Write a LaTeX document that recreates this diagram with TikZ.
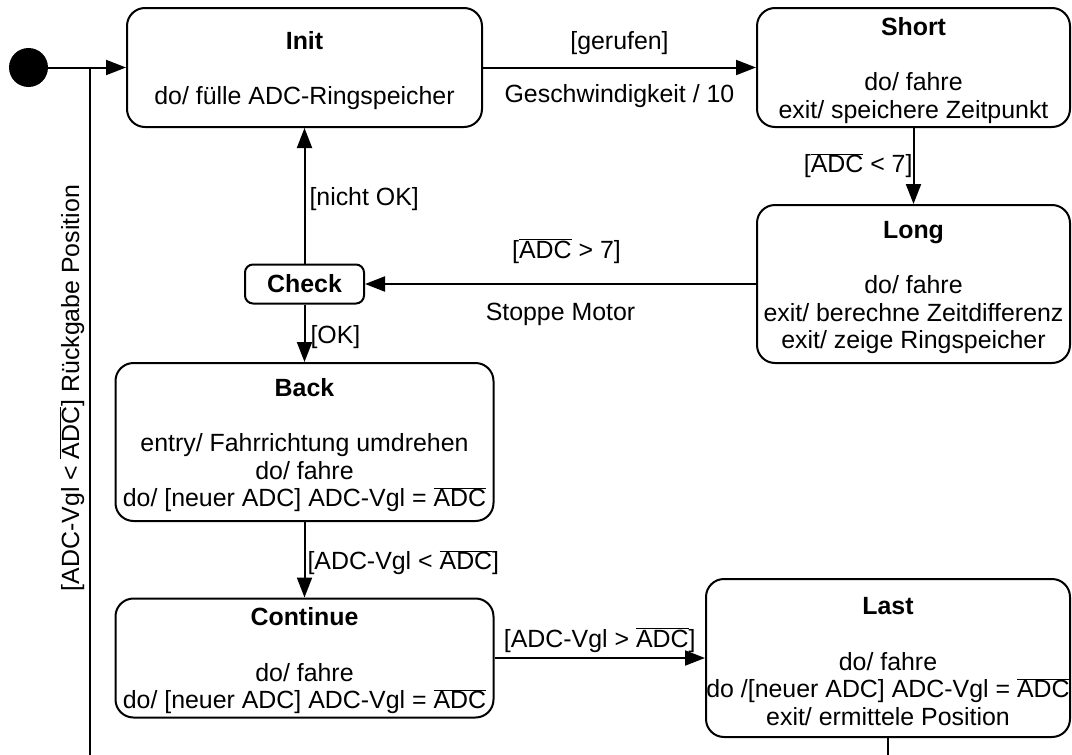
\documentclass[tikz,border=0pt]{standalone}
\usepackage{fontspec}
\setmainfont{Liberation Sans}
\usetikzlibrary{arrows.meta}
\newcommand\fsz{\fontsize{24.9pt}{27.5pt}\selectfont}
\newcommand\ADCbar{\ensuremath{\overline{\mbox{ADC}}}}
\newcommand\tgap{\rule{0pt}{24pt}}
\tikzset{
  statebox/.style={draw, line width=2pt, rounded corners=18pt, align=center, font=\fsz, inner sep=0pt},
  lab/.style={font=\fsz, inner sep=0pt},
  conn/.style={line width=2pt},
  arr/.style={conn, -{Triangle[length=20pt,width=15pt]}}
}
\begin{document}
\begin{tikzpicture}[x=1pt,y=-1pt]
\useasboundingbox (0,0) rectangle (1072,755);
\clip (0,0) rectangle (1072,755);

\node[circle, fill, minimum size=39pt, inner sep=0pt] (start) at (28.5,67.5) {};

\node[statebox, minimum width=355pt, minimum height=119pt] (Init) at (304.5,67.5)
  {\tgap\textbf{Init}\\[28pt]do/ fülle ADC-Ringspeicher};
\node[statebox, minimum width=313pt, minimum height=119pt] (Short) at (913.5,67.5)
  {\tgap\textbf{Short}\\[28pt]do/ fahre\\exit/ speichere Zeitpunkt};
\node[statebox, minimum width=313pt, minimum height=158pt] (Long) at (913.5,284)
  {\tgap\textbf{Long}\\[28pt]do/ fahre\\exit/ berechne Zeitdifferenz\\exit/ zeige Ringspeicher};
\node[statebox, rounded corners=8pt, minimum width=119pt, minimum height=39pt] (Check) at (304.5,284)
  {\textbf{Check}};
\node[statebox, minimum width=378pt, minimum height=158pt] (Back) at (304.5,442)
  {\tgap\textbf{Back}\\[28pt]entry/ Fahrrichtung umdrehen\\do/ fahre\\do/ [neuer ADC] ADC-Vgl = \ADCbar};
\node[statebox, minimum width=378pt, minimum height=119pt] (Continue) at (304.5,658)
  {\tgap\textbf{Continue}\\[28pt]do/ fahre\\do/ [neuer ADC] ADC-Vgl = \ADCbar};
\node[statebox, minimum width=364pt, minimum height=158pt] (Last) at (888,658)
  {\tgap\textbf{Last}\\[28pt]do/ fahre\\do /[neuer ADC] ADC-Vgl = \ADCbar\\exit/ ermittele Position};

\coordinate (j) at (90,67.5);
\coordinate (b) at (90,780);

\draw[arr] (start) -- (Init);
\draw[arr] (Init) -- node[lab, anchor=base, yshift=18.5pt]{[gerufen]}
                     node[lab, anchor=base, yshift=-34.5pt]{Geschwindigkeit / 10} (Short);
\draw[arr] (Short) -- node[lab, pos=0.59, anchor=base east]{[\ADCbar{} < 7]} (Long);
\draw[arr] (Long) -- node[lab, anchor=base, yshift=26pt, xshift=6pt]{[\ADCbar{} > 7]}
                     node[lab, anchor=base, yshift=-36pt]{Stoppe Motor} (Check);
\draw[arr] (Check) -- node[lab, pos=0.43, anchor=base west, xshift=4pt]{[nicht OK]} (Init);
\draw[arr] (Check) -- node[lab, pos=0.67, anchor=base west, xshift=5pt]{[OK]} (Back);
\draw[arr] (Back) -- node[lab, pos=0.63, anchor=base west, xshift=2pt]{[ADC-Vgl < \ADCbar]} (Continue);
\draw[arr] (Continue) -- node[lab, anchor=base, yshift=11pt]{[ADC-Vgl > \ADCbar]} (Last);
\draw[conn] (Last.south) |- (b) -- node[lab, pos=0.55, sloped, anchor=base, yshift=11pt]{[ADC-Vgl < \ADCbar] Rückgabe Position} (j);
\end{tikzpicture}
\end{document}
